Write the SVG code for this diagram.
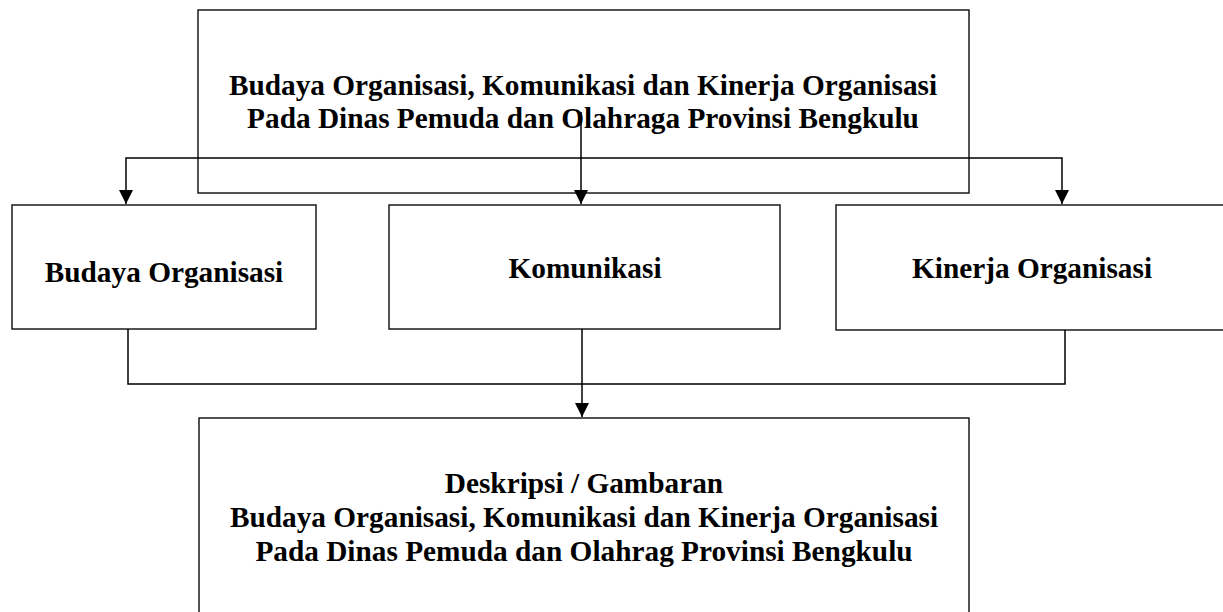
<svg xmlns="http://www.w3.org/2000/svg" width="1223" height="612" viewBox="0 0 1223 612">
<style>
.box{fill:none;stroke:#1a1a1a;stroke-width:1.5}
.ln{fill:none;stroke:#000;stroke-width:1.5}
.t{font-family:"Liberation Serif","Times New Roman",serif;font-weight:bold;font-size:29.3px;fill:#000;text-anchor:middle}
</style>
<defs>
<marker id="ah" viewBox="0 0 14 14" refX="14" refY="7" markerWidth="14" markerHeight="14" markerUnits="userSpaceOnUse" orient="auto-start-reverse">
<path d="M0,0 L14,7 L0,14 Z" fill="#000"/>
</marker>
</defs>
<g id="top">
<rect class="box" x="198" y="10" width="771" height="183"/>
<text class="t" x="583" y="95">Budaya Organisasi, Komunikasi dan Kinerja Organisasi</text>
<text class="t" x="583" y="128">Pada Dinas Pemuda dan Olahraga Provinsi Bengkulu</text>
</g>
<g id="budaya">
<rect class="box" x="12" y="205" width="304" height="124"/>
<text class="t" x="164" y="282">Budaya Organisasi</text>
</g>
<g id="komunikasi">
<rect class="box" x="389" y="205" width="391" height="124"/>
<text class="t" x="585" y="278">Komunikasi</text>
</g>
<g id="kinerja">
<rect class="box" x="836" y="205" width="400" height="125"/>
<text class="t" x="1032" y="278">Kinerja Organisasi</text>
</g>
<g id="deskripsi">
<rect class="box" x="199" y="418" width="770" height="210"/>
<text class="t" x="584" y="493">Deskripsi / Gambaran</text>
<text class="t" x="584" y="527">Budaya Organisasi, Komunikasi dan Kinerja Organisasi</text>
<text class="t" x="584" y="561">Pada Dinas Pemuda dan Olahrag Provinsi Bengkulu</text>
</g>
<g id="connectors">
<polyline class="ln" points="126,204 126,158 1062,158 1062,204" marker-start="url(#ah)" marker-end="url(#ah)"/>
<line class="ln" x1="581" y1="112" x2="581" y2="204" marker-end="url(#ah)"/>
<polyline class="ln" points="128,329 128,384 1065,384 1065,330"/>
<line class="ln" x1="582" y1="329" x2="582" y2="417" marker-end="url(#ah)"/>
</g>
</svg>
